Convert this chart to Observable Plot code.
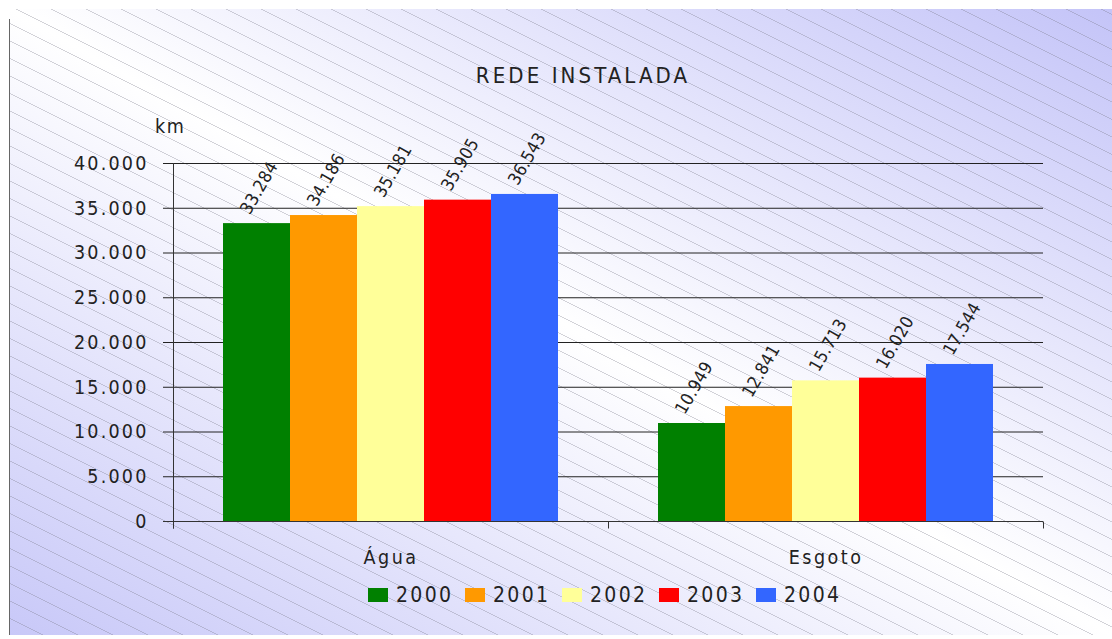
<!DOCTYPE html>
<html>
<head>
<meta charset="utf-8">
<script src="https://cdn.jsdelivr.net/npm/d3@7"></script>
<script src="https://cdn.jsdelivr.net/npm/@observablehq/plot@0.6"></script>
<style>
  html, body { margin: 0; padding: 0; background: #ffffff; }
  #wrap { position: relative; width: 1112px; height: 639px; overflow: hidden;
    font-family: "Liberation Sans Narrow", "DejaVu Sans Condensed", "Liberation Sans", sans-serif; color: #222; }
  #panel { position: absolute; left: 9px; top: 9px; width: 1103px; height: 626px;
    background:
      repeating-linear-gradient(26.565deg, rgba(0,0,0,0) 0px, rgba(0,0,0,0) 14.75px, rgba(120,120,135,0.32) 14.75px, rgba(120,120,135,0.32) 15.65px),
      linear-gradient(to bottom left, #c4c4f8 0%, #ffffff 50%, #c8c8f8 100%); }
  #edge { position: absolute; left: 9px; top: 19px; width: 1px; height: 616px; background: #666; }
  #title { position: absolute; left: 383px; width: 400px; top: 65px; text-align: center;
    font-size: 22px; line-height: 22px; letter-spacing: 3.1px; }
  #unit { position: absolute; left: 155px; top: 117px; font-size: 19.5px; line-height: 19px; letter-spacing: 1.5px; }
  #chart { position: absolute; left: 0; top: 0; }
  #chart g[aria-label="text"] text { letter-spacing: 0.3px; }
  #chart g[aria-label="fx-axis tick label"] text { letter-spacing: 2.5px; }
  #legend { position: absolute; left: 368px; top: 585px; }
  #legend > div { display: flex !important; align-items: center; margin: 0 !important; min-height: 0 !important;
    font-family: "Liberation Sans Narrow", "DejaVu Sans Condensed", "Liberation Sans", sans-serif !important;
    font-size: 21px !important; line-height: 20px; letter-spacing: 2.3px; color: #222; }
  #legend span { display: inline-flex !important; align-items: center; width: 97px; margin-right: 0 !important; }
  #legend svg { margin-right: 8px !important; }
</style>
</head>
<body>
<div id="wrap">
  <div id="panel"></div>
  <div id="edge"></div>
  <div id="title"></div>
  <div id="unit"></div>
  <div id="chart"></div>
  <div id="legend"></div>
</div>
<script>
const titleText = "REDE INSTALADA";
const unitText = "km";
const categories = ["Água", "Esgoto"];
const years = ["2000", "2001", "2002", "2003", "2004"];
const aguaValues = [33284, 34186, 35181, 35905, 36543];
const esgotoValues = [10949, 12841, 15713, 16020, 17544];
const yearColors = ["#008000", "#ff9900", "#ffff99", "#ff0000", "#3366ff"];
const yTicks = [0, 5000, 10000, 15000, 20000, 25000, 30000, 35000, 40000];

const FONT = '"Liberation Sans Narrow", "DejaVu Sans Condensed", "Liberation Sans", sans-serif';

const seriesByCat = {"Água": aguaValues, "Esgoto": esgotoValues};
const data = categories.flatMap(cat => years.map((year, i) => ({cat, year, value: seriesByCat[cat][i]})));

const fmt = d3.formatLocale({decimal: ",", thousands: ".", grouping: [3], currency: ["R$", ""]}).format(",d");

document.getElementById("title").textContent = titleText;
document.getElementById("unit").textContent = unitText;

// axis lines and category-boundary ticks, placed via the plot's own scales
const axisFrame = Plot.frame({
  facet: "super",
  render: (index, scales, values, dimensions) => {
    const {marginLeft, marginRight, width} = dimensions;
    const y = scales.y;
    const fx = scales.fx;
    const x0 = marginLeft, x1 = width - marginRight;
    const y0 = Math.round(y(0)) + 0.5, yTop = Math.round(y(d3.max(yTicks)));
    const tick = 7;
    const g = d3.create("svg:g").attr("fill", "none").attr("stroke", "#333").attr("stroke-width", 1);
    const edges = fx ? categories.map(c => fx(c)).concat([x1]) : [x0, (x0 + x1) / 2, x1];
    g.append("path").attr("d", `M${Math.round(edges[0]) + 0.5},${yTop}V${y0 + tick}`);
    g.append("path").attr("d", `M${x0 - 10},${y0}H${x1}`);
    for (const e of edges) g.append("path").attr("d", `M${Math.round(e) + 0.5},${y0}V${y0 + tick}`);
    return g.node();
  }
});

const chart = Plot.plot({
  width: 1112,
  height: 580,
  marginLeft: 172,
  marginRight: 69,
  marginTop: 163,
  marginBottom: 59,
  style: {background: "transparent", fontFamily: FONT, fontSize: "19.5px", letterSpacing: "2.2px", color: "#222", overflow: "visible"},
  fx: {domain: categories, padding: 0, label: null},
  x: {domain: years, paddingInner: 0, paddingOuter: 0.74, axis: null},
  y: {domain: [0, 40000], label: null},
  color: {type: "ordinal", domain: years, range: yearColors},
  marks: [
    Plot.ruleY(yTicks, {stroke: "#222", strokeWidth: 1}),
    Plot.barY(data, {fx: "cat", x: "year", y: "value", fill: "year"}),
    Plot.text(data, {fx: "cat", x: "year", y: "value", text: d => fmt(d.value), rotate: -60,
      textAnchor: "start", dx: -12, dy: -11, fontSize: 17.5, fill: "#222"}),
    Plot.axisY(yTicks, {tickSize: 10, tickPadding: 15, tickFormat: fmt, label: null, color: "#222"}),
    Plot.axisFx({anchor: "bottom", tickSize: 0, tickPadding: 29, label: null, color: "#222"}),
    axisFrame
  ]
});
document.getElementById("chart").appendChild(chart);

const legend = chart.legend("color", {swatchWidth: 20, swatchHeight: 14, className: "lg"});
document.getElementById("legend").appendChild(legend);
</script>
</body>
</html>
